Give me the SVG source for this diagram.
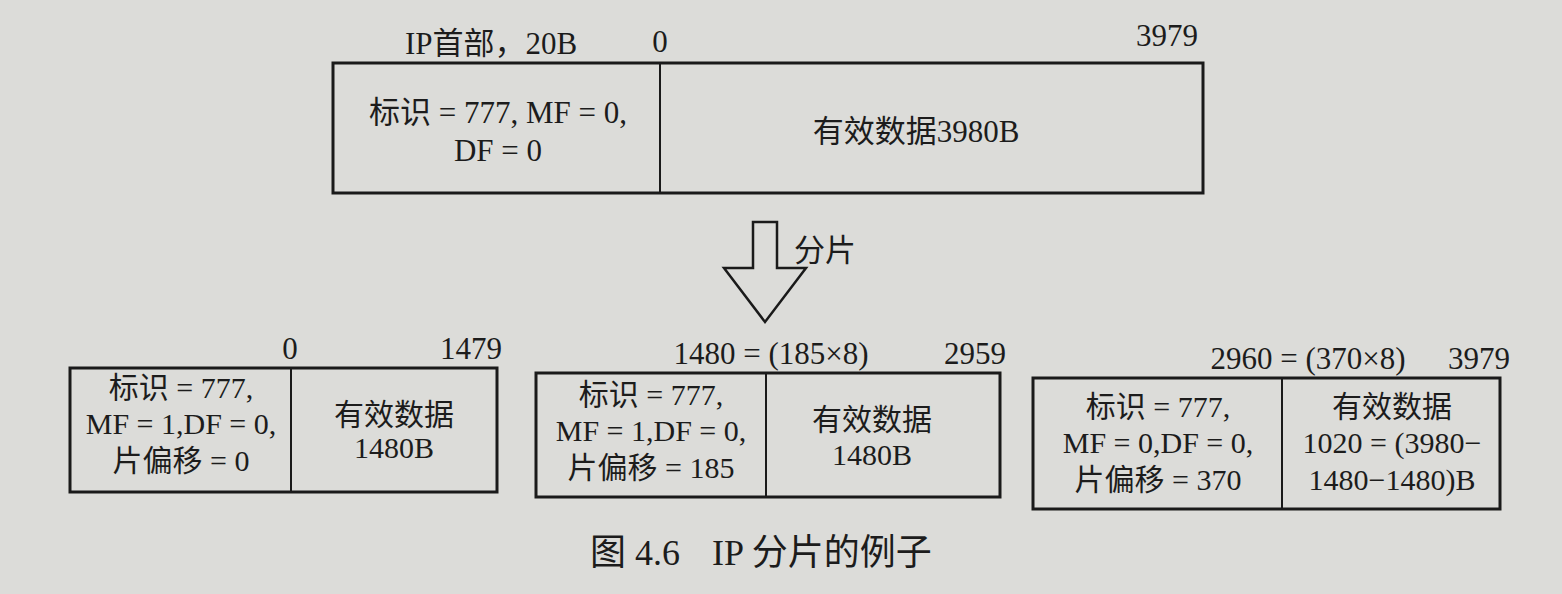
<svg xmlns="http://www.w3.org/2000/svg" width="1562" height="594" viewBox="0 0 1562 594">
<style>
.bg{fill:#dcdcd9}
.box{fill:none;stroke:#1a1a1a;stroke-width:3}
.div{stroke:#1a1a1a;stroke-width:2}
.t{font-family:"Liberation Serif","Noto Sans CJK SC",serif;font-size:30px;fill:#1c1c1c;text-anchor:middle}
.tt{font-family:"Liberation Serif","Noto Sans CJK SC",serif;font-size:31px;fill:#1c1c1c;text-anchor:middle}
.l{font-family:"Liberation Serif","Noto Sans CJK SC",serif;font-size:31px;fill:#1c1c1c}
.cap{font-family:"Liberation Serif","Noto Sans CJK SC",serif;font-size:36px;fill:#1c1c1c}
</style>
<rect class="bg" x="0" y="0" width="1562" height="594"/>
<g id="original">
<rect class="box" x="333" y="63" width="870" height="130"/>
<line class="div" x1="660" y1="63" x2="660" y2="193"/>
<text class="l" x="405" y="54">IP首部，20B</text>
<text class="tt" x="660" y="52">0</text>
<text class="tt" x="1167" y="46">3979</text>
<text class="tt" x="498" y="123">标识 = 777, MF = 0,</text>
<text class="tt" x="498" y="161">DF = 0</text>
<text class="tt" x="916" y="142">有效数据3980B</text>
</g>
<g id="connectors">
<polygon points="753,222 777,222 777,268 806,268 765,322 724,268 753,268" fill="none" stroke="#1a1a1a" stroke-width="2.5" stroke-linejoin="miter"/>
<text class="l" x="794" y="261">分片</text>
</g>
<g id="frag1">
<rect class="box" x="70" y="368" width="427" height="124"/>
<line class="div" x1="291" y1="368" x2="291" y2="492"/>
<text class="tt" x="290" y="359">0</text>
<text class="tt" x="471" y="359">1479</text>
<text class="t" x="181" y="398">标识 = 777,</text>
<text class="t" x="181" y="434">MF = 1,DF = 0,</text>
<text class="t" x="181" y="471">片偏移 = 0</text>
<text class="t" x="394" y="425">有效数据</text>
<text class="t" x="394" y="458">1480B</text>
</g>
<g id="frag2">
<rect class="box" x="536" y="373" width="464" height="124"/>
<line class="div" x1="766" y1="373" x2="766" y2="497"/>
<text class="tt" x="771" y="364">1480 = (185×8)</text>
<text class="tt" x="975" y="364">2959</text>
<text class="t" x="651" y="405">标识 = 777,</text>
<text class="t" x="651" y="441">MF = 1,DF = 0,</text>
<text class="t" x="651" y="478">片偏移 = 185</text>
<text class="t" x="872" y="430">有效数据</text>
<text class="t" x="872" y="465">1480B</text>
</g>
<g id="frag3">
<rect class="box" x="1033" y="378" width="467" height="131"/>
<line class="div" x1="1282" y1="378" x2="1282" y2="509"/>
<text class="tt" x="1308" y="369">2960 = (370×8)</text>
<text class="tt" x="1479" y="369">3979</text>
<text class="t" x="1158" y="417">标识 = 777,</text>
<text class="t" x="1158" y="453">MF = 0,DF = 0,</text>
<text class="t" x="1158" y="490">片偏移 = 370</text>
<text class="t" x="1392" y="417">有效数据</text>
<text class="t" x="1392" y="453">1020 = (3980−</text>
<text class="t" x="1392" y="490">1480−1480)B</text>
</g>
<text class="cap" x="590" y="565">图 4.6</text>
<text class="cap" x="712" y="565">IP 分片的例子</text>
</svg>
